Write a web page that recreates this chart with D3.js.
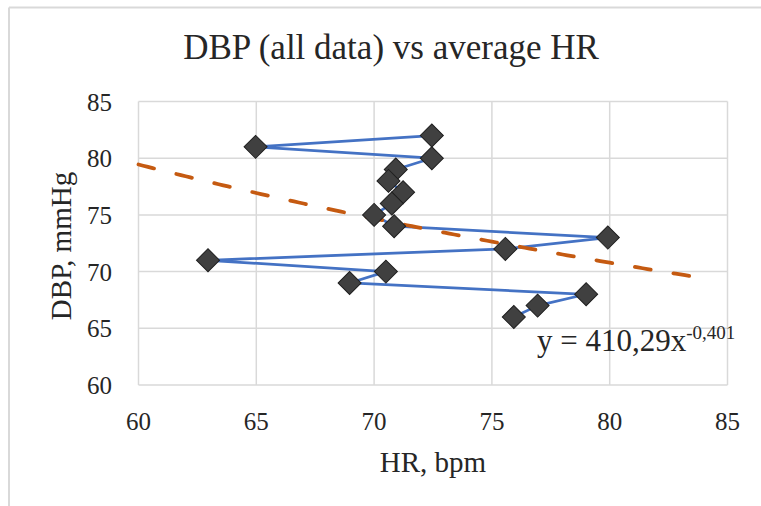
<!DOCTYPE html>
<html>
<head>
<meta charset="utf-8">
<script src="https://cdn.jsdelivr.net/npm/d3@7"></script>
<style>
  html, body { margin: 0; padding: 0; background: #fff; }
</style>
</head>
<body>
<div id="chart"></div>
<script>
// ---- data ----
var hr  = [72.45, 64.97, 72.45, 70.92, 70.61, 71.23, 70.75, 70.0, 70.85, 79.92, 75.57, 62.95, 70.5, 68.96, 79.0, 76.94, 75.93];
var dbp = [82, 81, 80, 79, 78, 77, 76, 75, 74, 73, 72, 71, 70, 69, 68, 67, 66];
var xTicks = [60, 65, 70, 75, 80, 85];
var yTicks = [60, 65, 70, 75, 80, 85];

// power trendline from the chart: y = 410,29 x^-0,401
var trendA = 410.29;
var trendB = -0.401;
var trendFrom = 60, trendTo = 84.2;

var width = 761, height = 506;
var serif = "'Liberation Serif', 'Times New Roman', Times, 'DejaVu Serif', serif";

var svg = d3.select("#chart").append("svg")
    .attr("width", width).attr("height", height)
    .attr("font-family", serif)
    .style("font-family", serif);

// chart frame (only top and left edges are visible)
svg.append("line").attr("x1", 9).attr("y1", 7.5).attr("x2", width).attr("y2", 7.5)
    .attr("stroke", "#d9d9d9").attr("stroke-width", 2);
svg.append("line").attr("x1", 9).attr("y1", 7.5).attr("x2", 9).attr("y2", height)
    .attr("stroke", "#d9d9d9").attr("stroke-width", 2);

var x = d3.scaleLinear().domain([60, 85]).range([138.5, 727.5]);
var y = d3.scaleLinear().domain([60, 85]).range([385, 101.5]);

// gridlines
var grid = svg.append("g");
grid.selectAll(".vgrid").data(xTicks).enter().append("line")
    .attr("class", "vgrid")
    .attr("x1", d => x(d)).attr("x2", d => x(d))
    .attr("y1", y(85)).attr("y2", y(60))
    .attr("stroke", "#d9d9d9").attr("stroke-width", 1.5);
grid.selectAll(".hgrid").data(yTicks).enter().append("line")
    .attr("class", "hgrid")
    .attr("x1", x(60)).attr("x2", x(85))
    .attr("y1", d => y(d)).attr("y2", d => y(d))
    .attr("stroke", "#d9d9d9").attr("stroke-width", 1.5);

function label(sel) {
    return sel.attr("fill", "#262626").style("font-family", serif);
}

// tick labels
label(svg.append("g").selectAll("text").data(xTicks).enter().append("text"))
    .attr("x", d => x(d)).attr("y", 430)
    .attr("text-anchor", "middle")
    .style("font-size", "25px")
    .text(d => d);
label(svg.append("g").selectAll("text").data(yTicks).enter().append("text"))
    .attr("x", 112).attr("y", d => y(d) + 9)
    .attr("text-anchor", "end")
    .style("font-size", "25px")
    .text(d => d);

// series line
var points = hr.map((h, i) => ({ x: h, y: dbp[i] }));
var line = d3.line().x(d => x(d.x)).y(d => y(d.y));
svg.append("path").datum(points)
    .attr("d", line)
    .attr("fill", "none")
    .attr("stroke", "#4472c4")
    .attr("stroke-width", 2.75)
    .attr("stroke-linejoin", "round");

// trendline
var trendPts = d3.range(trendFrom, trendTo + 0.001, 0.2).map(v => ({ x: v, y: trendA * Math.pow(v, trendB) }));
svg.append("path").datum(trendPts)
    .attr("d", line)
    .attr("fill", "none")
    .attr("stroke", "#c55a11")
    .attr("stroke-width", 3.75)
    .attr("stroke-linecap", "round")
    .attr("stroke-dasharray", "16,23");

// markers
var diamond = d3.symbol().type(d3.symbolSquare).size(265);
svg.append("g").selectAll("path").data(points).enter().append("path")
    .attr("d", diamond)
    .attr("transform", d => `translate(${x(d.x)},${y(d.y)}) rotate(45)`)
    .attr("fill", "#404040")
    .attr("stroke", "#1f1f1f")
    .attr("stroke-width", 1);

// equation label
var eq = label(svg.append("text"))
    .attr("x", 537).attr("y", 351)
    .style("font-size", "31px");
eq.append("tspan").text("y = 410,29x");
eq.append("tspan").attr("dy", -12).style("font-size", "19px").text("-0,401");

// title and axis titles
label(svg.append("text"))
    .attr("x", 391).attr("y", 59)
    .attr("text-anchor", "middle")
    .style("font-size", "35px")
    .text("DBP (all data) vs average HR");
label(svg.append("text"))
    .attr("x", 433).attr("y", 472)
    .attr("text-anchor", "middle")
    .style("font-size", "29px")
    .text("HR, bpm");
label(svg.append("text"))
    .attr("transform", "translate(71,246) rotate(-90)")
    .attr("text-anchor", "middle")
    .style("font-size", "29px")
    .text("DBP, mmHg");
</script>
</body>
</html>
